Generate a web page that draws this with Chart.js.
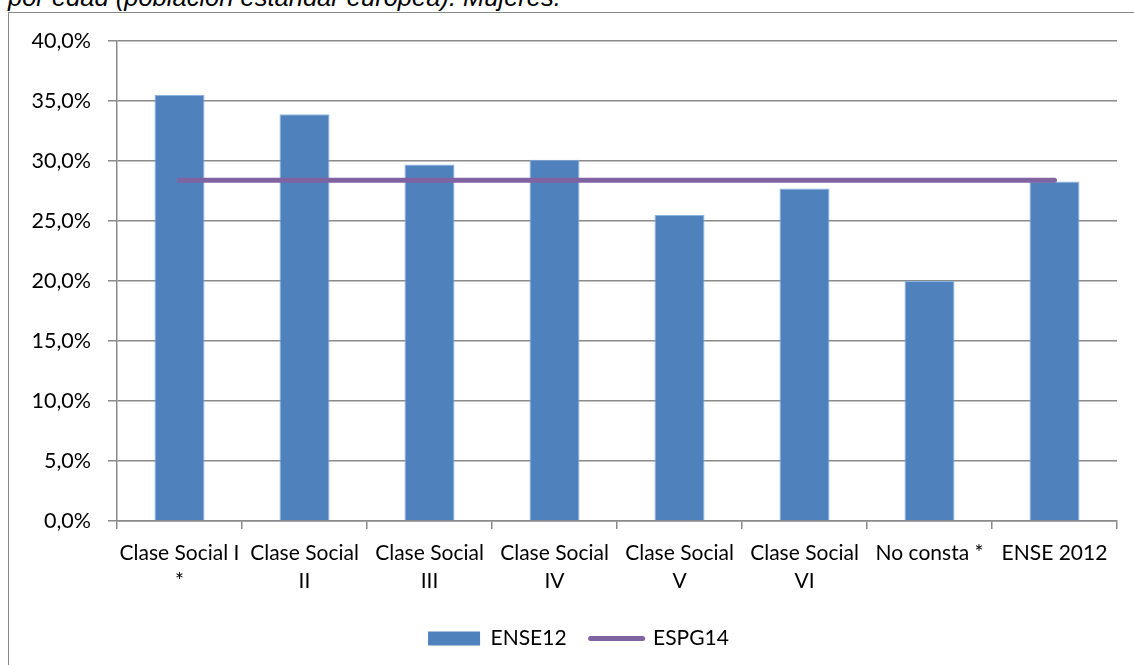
<!DOCTYPE html>
<html>
<head>
<meta charset="utf-8">
<script src="https://cdn.jsdelivr.net/npm/chart.js@4/dist/chart.umd.min.js"></script>
<style>
  html, body { margin: 0; padding: 0; background: #fff; overflow: hidden; }
  #frame { position: absolute; left: 8px; top: 12px; width: 1200px; height: 700px; border: 1px solid #898989; }
  #title { position: absolute; left: 8px; top: -18px; font: italic 25.5px "Liberation Sans", Arial, sans-serif; color: #000; white-space: nowrap; line-height: 30px; }
  #chart { position: absolute; left: 0; top: 0; }
</style>
</head>
<body>
<div id="frame"></div>
<div id="title">por edad (población estándar europea). Mujeres.</div>
<canvas id="chart" width="1134" height="665"></canvas>
<script>
const categories = [
  ['Clase Social I', '*'],
  ['Clase Social', 'II'],
  ['Clase Social', 'III'],
  ['Clase Social', 'IV'],
  ['Clase Social', 'V'],
  ['Clase Social', 'VI'],
  'No consta *',
  'ENSE 2012'
];
const ense12 = [35.5, 33.9, 29.7, 30.1, 25.5, 27.7, 20.0, 28.3];
const espg14 = [28.4, 28.4, 28.4, 28.4, 28.4, 28.4, 28.4, 28.4];

const fontFamily = 'Lato, "Open Sans", sans-serif';
const gridColor = '#8a8a8a';

// Excel centres the legend a bit right of the canvas middle
const legendShift = {
  id: 'legendShift',
  afterLayout(c) {
    if (c.legend) { c.legend.left += 20; c.legend.right += 20; }
  }
};

const chart = new Chart(document.getElementById('chart'), {
  data: {
    labels: categories,
    datasets: [
      {
        type: 'bar',
        label: 'ENSE12',
        data: ense12,
        backgroundColor: '#4F81BD',
        borderColor: '#8DB3E2',
        borderWidth: 1,
        barPercentage: 0.5,
        categoryPercentage: 0.8,
        order: 2
      },
      {
        type: 'line',
        label: 'ESPG14',
        data: espg14,
        borderColor: '#8064A2',
        backgroundColor: '#8064A2',
        borderWidth: 5,
        borderCapStyle: 'round',
        pointRadius: 0,
        fill: false,
        order: 1
      }
    ]
  },
  plugins: [legendShift],
  options: {
    responsive: false,
    maintainAspectRatio: false,
    animation: false,
    devicePixelRatio: 1,
    layout: { padding: { left: 0, right: 17, top: 41, bottom: 6 } },
    plugins: {
      tooltip: { enabled: false },
      legend: {
        position: 'bottom',
        labels: {
          color: '#000',
          font: { family: fontFamily, size: 21 },
          usePointStyle: true,
          pointStyleWidth: 52,
          boxHeight: 14,
          padding: 24,
          sort: (a, b) => a.datasetIndex - b.datasetIndex,
          generateLabels: (c) => c.data.datasets.map((ds, i) => ({
            text: ds.label,
            datasetIndex: i,
            fillStyle: ds.backgroundColor,
            strokeStyle: ds.type === 'line' ? ds.borderColor : ds.backgroundColor,
            lineWidth: ds.type === 'line' ? 5 : 0,
            lineCap: 'round',
            pointStyle: ds.type === 'line' ? 'line' : 'rect',
            hidden: false
          }))
        }
      }
    },
    scales: {
      x: {
        offset: true,
        grid: { display: true, drawOnChartArea: false, drawTicks: true, tickLength: 8, color: gridColor, lineWidth: 1.5, offset: true },
        border: { display: true, color: gridColor, width: 1.5 },
        ticks: {
          color: '#000',
          font: { family: fontFamily, size: 21, lineHeight: 1.35 },
          autoSkip: false,
          maxRotation: 0,
          minRotation: 0,
          padding: 10
        },
        afterFit: (scale) => { scale.height = 83; }
      },
      y: {
        min: 0,
        max: 40,
        grid: { color: gridColor, lineWidth: 1.5, tickLength: 9 },
        border: { display: true, color: gridColor, width: 1.5 },
        ticks: {
          stepSize: 5,
          color: '#000',
          padding: 17,
          font: { family: fontFamily, size: 21.5 },
          callback: (v) => v.toFixed(1).replace('.', ',') + '%'
        },
        afterFit: (scale) => { scale.width = 117; }
      }
    }
  }
});
</script>
</body>
</html>
